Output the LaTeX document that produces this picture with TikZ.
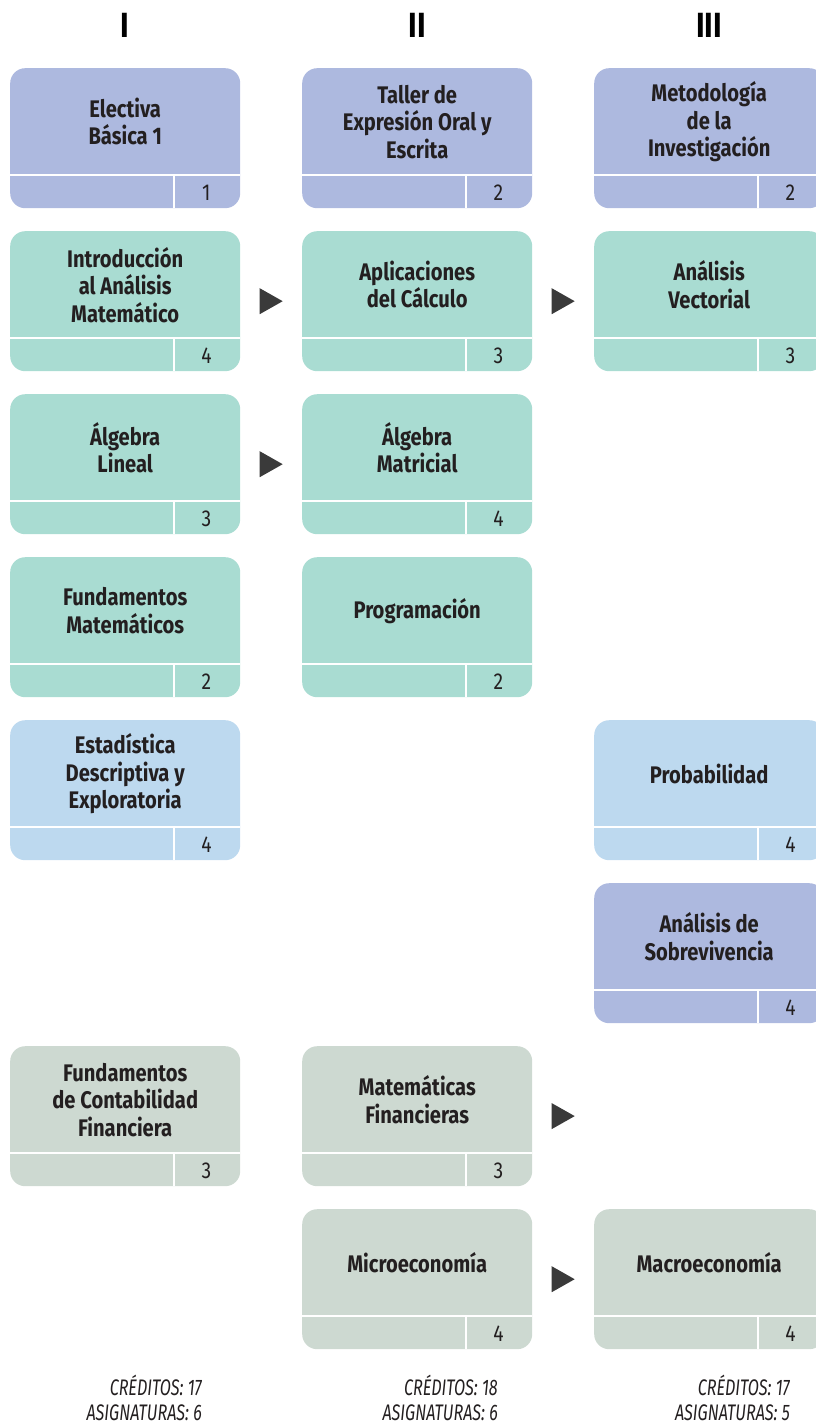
\documentclass[tikz,border=0pt]{standalone}
\usepackage{fontspec}
\setmainfont[FakeStretch=0.84]{Fira Sans}
\newfontfamily\estrecha[FakeStretch=0.72]{Fira Sans}
\usetikzlibrary{calc}
\definecolor{lavanda}{HTML}{ADB9DF}
\definecolor{turquesa}{HTML}{A9DCD2}
\definecolor{celeste}{HTML}{BDD9EF}
\definecolor{gris}{HTML}{CDD9D1}
\definecolor{oscuro}{HTML}{3A3A3A}
\definecolor{tinta}{HTML}{231F20}
\tikzset{
	caja/.style={rectangle,rounded corners=15pt,minimum width=230pt,minimum height=140pt,inner sep=0pt,anchor=north west},
	divisor/.style={white,line width=2pt},
	titulo/.style={font=\bfseries\fontsize{24}{27.5}\selectfont,align=center,text=tinta},
	creditos/.style={font=\fontsize{23}{28}\selectfont,text=tinta},
	semestre/.style={font=\bfseries\fontsize{35}{40}\selectfont,text=black},
	pie/.style={font=\estrecha\itshape\fontsize{22.5}{26}\selectfont,anchor=base east,inner sep=0pt,text=tinta}
}
\newcommand{\materia}[6]{
	\node [caja,fill=#4] (#1) at (#2,#3) {};
	\draw [divisor] ([yshift=33pt]#1.south west)--([yshift=33pt]#1.south east);
	\draw [divisor] ([xshift=-66pt]#1.south east)--++(0,33pt);
	\node [titulo] (#1t) at ([yshift=16.5pt]#1.center) {#5};
	\node [creditos] (#1c) at ([xshift=-34pt,yshift=16pt]#1.south east) {#6};
}
\newcommand{\flecha}[2]{
	\coordinate (m) at ($(#1)!0.5!(#2)$);
	\fill [oscuro] ([xshift=-11.5pt,yshift=13pt]m)--([xshift=11.5pt]m)--([xshift=-11.5pt,yshift=-13pt]m)--cycle;
}

\begin{document}
\begin{tikzpicture}[x=1pt,y=-1pt]
\useasboundingbox (0,0) rectangle (816,1427);
\clip (0,0) rectangle (816,1427);

\node [semestre] (s1) at (125,25) {I};
\node [semestre] (s2) at (417,25) {II};
\node [semestre] (s3) at (709,25) {III};

\materia{c11}{10}{68}{lavanda}{Electiva\\Básica 1}{1}
\materia{c12}{302}{68}{lavanda}{Taller de\\Expresión Oral y\\Escrita}{2}
\materia{c13}{594}{68}{lavanda}{Metodología\\de la\\Investigación}{2}

\materia{c21}{10}{231}{turquesa}{Introducción\\al Análisis\\Matemático}{4}
\materia{c22}{302}{231}{turquesa}{Aplicaciones\\del Cálculo}{3}
\materia{c23}{594}{231}{turquesa}{Análisis\\Vectorial}{3}

\materia{c31}{10}{394}{turquesa}{Álgebra\\Lineal}{3}
\materia{c32}{302}{394}{turquesa}{Álgebra\\Matricial}{4}

\materia{c41}{10}{557}{turquesa}{Fundamentos\\Matemáticos}{2}
\materia{c42}{302}{557}{turquesa}{Programación}{2}

\materia{c51}{10}{720}{celeste}{Estadística\\Descriptiva y\\Exploratoria}{4}
\materia{c53}{594}{720}{celeste}{Probabilidad}{4}

\materia{c63}{594}{883}{lavanda}{Análisis de\\Sobrevivencia}{4}

\materia{c71}{10}{1046}{gris}{Fundamentos\\de Contabilidad\\Financiera}{3}
\materia{c72}{302}{1046}{gris}{Matemáticas\\Financieras}{3}
\coordinate (c73) at (594,1116);

\materia{c82}{302}{1209}{gris}{Microeconomía}{4}
\materia{c83}{594}{1209}{gris}{Macroeconomía}{4}

\flecha{c21.east}{c22.west}
\flecha{c22.east}{c23.west}
\flecha{c31.east}{c32.west}
\flecha{c72.east}{c73}
\flecha{c82.east}{c83.west}

\node [pie] (p1a) at (202,1395) {CRÉDITOS: 17};
\node [pie] (p1b) at (202,1420) {ASIGNATURAS: 6};
\node [pie] (p2a) at (498,1395) {CRÉDITOS: 18};
\node [pie] (p2b) at (498,1420) {ASIGNATURAS: 6};
\node [pie] (p3a) at (790,1395) {CRÉDITOS: 17};
\node [pie] (p3b) at (790,1420) {ASIGNATURAS: 5};
\end{tikzpicture}
\end{document}
